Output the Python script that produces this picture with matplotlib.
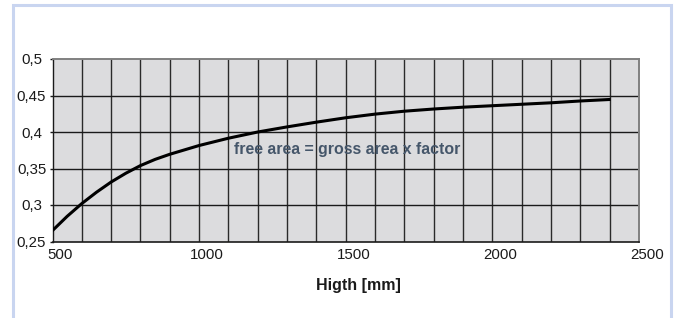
import matplotlib
matplotlib.use("Agg")
import matplotlib.pyplot as plt
import matplotlib.transforms as mtransforms
from matplotlib.patches import Rectangle

plt.rcParams['font.family'] = ['Liberation Sans', 'DejaVu Sans']

# curve: height [mm] -> factor
height = [500, 550, 600, 650, 700, 750, 800, 850, 900, 1000, 1100, 1200,
          1300, 1400, 1500, 1600, 1700, 1800, 1900, 2000, 2100, 2200, 2300, 2398]
factor = [0.265, 0.2845, 0.302, 0.3175, 0.3315, 0.3435, 0.354, 0.3625, 0.3695,
          0.3815, 0.3915, 0.400, 0.407, 0.4135, 0.4195, 0.4245, 0.4285, 0.4315,
          0.434, 0.436, 0.438, 0.440, 0.4425, 0.4445]

xticks = [500, 1000, 1500, 2000, 2500]
yticks = [0.25, 0.3, 0.35, 0.4, 0.45, 0.5]
ytick_labels = ["0,25", "0,3", "0,35", "0,4", "0,45", "0,5"]

fig = plt.figure(figsize=(6.79, 3.18), dpi=100)

# light blue frame round the whole chart
fig.patches.append(Rectangle((13 / 679, -0.1), 658 / 679, 1.1 - 5 / 318,
                             transform=fig.transFigure, fill=False,
                             edgecolor='#c9d5f0', linewidth=2.2))

ax = fig.add_axes([52.5 / 679, 1 - 241.5 / 318, (639 - 52.5) / 679, (241.5 - 59) / 318])
ax.set_facecolor('#dcdcde')

ax.set_xlim(500, 2500)
ax.set_ylim(0.25, 0.5)

# grid: every 100 mm, every 0.05
for x in range(600, 2500, 100):
    ax.axvline(x, color='#2a2a2a', linewidth=1.0, zorder=1)
for y in yticks[1:-1]:
    ax.axhline(y, color='#1a1a1a', linewidth=1.0, zorder=1)

ax.plot(height, factor, color='black', linewidth=2.2, zorder=3,
        solid_joinstyle='round')

ax.text(1118, 0.3764, "free area = gross area x factor", color='#45566a',
        fontsize=11.4, fontweight='bold', va='center', ha='left', zorder=4)

for side in ['top', 'right']:
    ax.spines[side].set_color('#808080')
    ax.spines[side].set_linewidth(1.4)
ax.spines['left'].set_color('#1a1a1a')
ax.spines['bottom'].set_color('#1a1a1a')
ax.spines['left'].set_linewidth(1.0)
ax.spines['bottom'].set_linewidth(1.2)

ax.set_xticks(xticks)
ax.set_xticklabels([str(t) for t in xticks])
ax.set_yticks(yticks)
ax.set_yticklabels(ytick_labels)
ax.tick_params(axis='x', length=0, pad=5, labelsize=10.8, colors='#1a1a1a')
ax.tick_params(axis='y', length=2.5, width=1.0, pad=12.6, labelsize=10.8,
               colors='#1a1a1a')
for lab in ax.get_yticklabels():
    lab.set_horizontalalignment('center')

# x labels sit a little right of their grid lines in the original
shift = mtransforms.ScaledTranslation(8 / 100, 0, fig.dpi_scale_trans)
for lab in ax.get_xticklabels():
    lab.set_transform(lab.get_transform() + shift)

fig.text(358 / 679, 1 - 290 / 318, "Higth [mm]", fontsize=11.5,
         fontweight='bold', ha='center', va='baseline', color='#1a1a1a')

fig.savefig("out.png", dpi=100)
